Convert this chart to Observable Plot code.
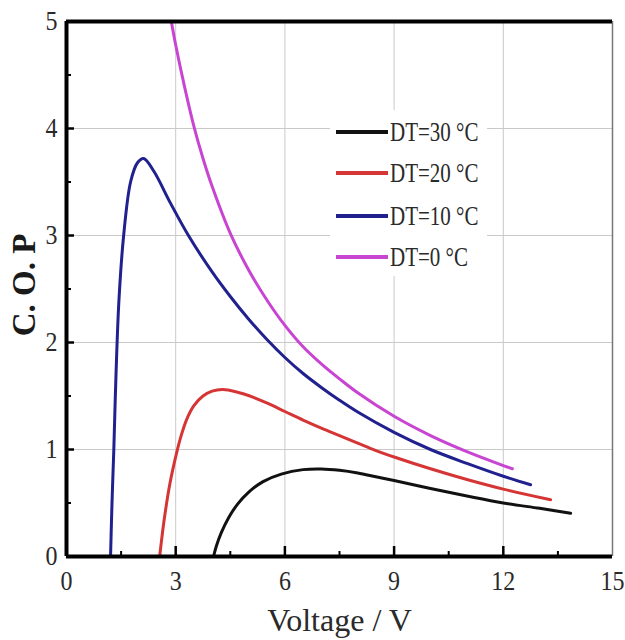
<!DOCTYPE html>
<html><head><meta charset="utf-8">
<script src="https://cdn.jsdelivr.net/npm/d3@7"></script>
<script src="https://cdn.jsdelivr.net/npm/@observablehq/plot@0.6"></script>
<style>body{margin:0;background:#fff}</style>
</head><body><div id="chart"></div>
<script>
// ---- data ----
const xTicks = [0, 3, 6, 9, 12, 15];
const yTicks = [0, 1, 2, 3, 4, 5];
const xGrid = [3, 6, 9, 12];
const yGrid = [1, 2, 3, 4];
const xMinor = [1.5, 4.5, 7.5, 10.5, 13.5];
const yMinor = [0.5, 1.5, 2.5, 3.5, 4.5];
const seriesNames = ["DT=30 °C", "DT=20 °C", "DT=10 °C", "DT=0 °C"];
const seriesColors = ["#111111", "#d63535", "#20208f", "#c845d2"];

const dt30V = [4.04, 4.12, 4.25, 4.45, 4.7, 5.0, 5.4, 5.9, 6.5, 7.0, 7.5, 8.0, 8.5, 9, 10, 11, 12, 13, 13.85];
const dt30C = [0, 0.1, 0.22, 0.36, 0.49, 0.6, 0.7, 0.77, 0.812, 0.818, 0.805, 0.78, 0.745, 0.71, 0.635, 0.565, 0.5, 0.45, 0.405];

const dt20V = [2.56, 2.6, 2.69, 2.84, 3.04, 3.15, 3.3, 3.5, 3.75, 4.0, 4.3, 4.7, 5, 5.5, 6, 6.5, 7, 7.5, 8, 8.5, 9, 10, 11, 12, 13.3];
const dt20C = [0, 0.12, 0.36, 0.68, 0.99, 1.13, 1.28, 1.41, 1.5, 1.545, 1.56, 1.535, 1.505, 1.435, 1.355, 1.275, 1.2, 1.13, 1.06, 0.99, 0.93, 0.82, 0.72, 0.63, 0.53];

const dt10V = [1.21, 1.25, 1.3, 1.36, 1.44, 1.57, 1.76, 1.95, 2.12, 2.4, 2.86, 3.35, 4, 4.5, 5, 5.5, 6, 6.5, 7, 7.5, 8, 9, 10, 11, 12, 12.75];
const dt10C = [0, 0.5, 1.0, 1.7, 2.39, 3.0, 3.5, 3.68, 3.72, 3.6, 3.3, 3.0, 2.66, 2.43, 2.22, 2.03, 1.86, 1.71, 1.58, 1.46, 1.35, 1.16, 1.0, 0.87, 0.75, 0.67];

const dt0V = [2.88, 3.0, 3.25, 3.5, 3.75, 4.0, 4.5, 5.0, 5.5, 6.0, 6.5, 7.0, 7.5, 8.0, 9, 10, 11, 12, 12.25];
const dt0C = [5, 4.78, 4.38, 4.02, 3.72, 3.46, 3.02, 2.68, 2.4, 2.16, 1.96, 1.8, 1.66, 1.53, 1.31, 1.13, 0.98, 0.85, 0.82];

const seriesV = [dt30V, dt20V, dt10V, dt0V];
const seriesC = [dt30C, dt20C, dt10C, dt0C];

const rows = [];
seriesNames.forEach((name, k) => {
  seriesV[k].forEach((v, i) => rows.push({series: name, v, c: seriesC[k][i]}));
});

const serif = "Liberation Serif, Times New Roman, serif";

const chart = Plot.plot({
  width: 625, height: 640,
  marginLeft: 66, marginRight: 13, marginTop: 21, marginBottom: 84,
  style: {fontFamily: serif, background: "#fff", color: "#2a2a2a"},
  x: {domain: [0, 15]},
  y: {domain: [0, 5]},
  color: {domain: seriesNames, range: seriesColors},
  marks: [
    Plot.ruleX(xGrid, {stroke: "#c9c9c9", strokeWidth: 1}),
    Plot.ruleY(yGrid, {stroke: "#c9c9c9", strokeWidth: 1}),
    Plot.line(rows, {x: "v", y: "c", z: "series", stroke: "series", strokeWidth: 3, curve: "catmull-rom"}),
    // inward ticks
    Plot.ruleX(xGrid, {x: d => d, y1: () => 0, y2: () => 0, insetBottom: 10, stroke: "#000", strokeWidth: 2.5}),
    Plot.ruleX(xMinor, {x: d => d, y1: () => 0, y2: () => 0, insetBottom: 5, stroke: "#000", strokeWidth: 2}),
    Plot.ruleY(yGrid, {y: d => d, x1: () => 0, x2: () => 0, insetRight: -8, stroke: "#000", strokeWidth: 2.5}),
    Plot.ruleY(yMinor, {y: d => d, x1: () => 0, x2: () => 0, insetRight: -5, stroke: "#000", strokeWidth: 2}),
    // frame
    Plot.ruleX([15], {stroke: "#777", strokeWidth: 1.5}),
    Plot.ruleY([5], {stroke: "#000", strokeWidth: 4}),
    Plot.ruleY([0], {stroke: "#000", strokeWidth: 4}),
    Plot.ruleX([0], {stroke: "#000", strokeWidth: 4}),
    Plot.axisX(xTicks, {tickSize: 0, tickPadding: 14, fontSize: 24, fontFamily: serif, tickFormat: d => String(d), label: null}),
    Plot.axisY(yTicks, {tickSize: 0, tickPadding: 9, fontSize: 24, fontFamily: serif, tickFormat: d => String(d), label: null}),
    Plot.text(["Voltage / V"], {frameAnchor: "bottom", textAnchor: "middle", lineAnchor: "middle", dy: 64, fontSize: 32, fontFamily: serif, fill: "#2a2a2a", ariaLabel: "xtitle"}),
    Plot.text(["C. O. P"], {frameAnchor: "left", textAnchor: "middle", lineAnchor: "middle", rotate: -90, dx: -42, dy: -4, fontSize: 33, fontWeight: "bold", fontFamily: serif, fill: "#1a1a1a", ariaLabel: "ytitle"})
  ]
});

const svg = d3.select(chart);
svg.selectAll("text").attr("font-family", serif);
function stretch(sel, sx, sy) {
  sel.each(function () {
    const t = this.getAttribute("transform") || "";
    this.setAttribute("transform", t + ` scale(${sx},${sy})`);
  });
}
stretch(svg.selectAll('g[aria-label="x-axis tick label"] text'), 1, 1.15);
stretch(svg.selectAll('g[aria-label="y-axis tick label"] text'), 1, 1.15);
stretch(svg.selectAll('g[aria-label="xtitle"] text'), 1, 1.5);
stretch(svg.selectAll('g[aria-label="ytitle"] text'), 1.12, 1);

// legend
const lg = svg.append("g").attr("aria-label", "legend");
lg.append("rect").attr("x", 330).attr("y", 110).attr("width", 157).attr("height", 166).attr("fill", "#fff");
const rowY = [132, 173, 216, 257];
seriesNames.forEach((name, k) => {
  lg.append("line").attr("x1", 336).attr("x2", 388).attr("y1", rowY[k]).attr("y2", rowY[k])
    .attr("stroke", seriesColors[k]).attr("stroke-width", 4);
  lg.append("text").attr("transform", `translate(390,${rowY[k]}) scale(1,1.3)`)
    .attr("dy", "0.32em").attr("text-anchor", "start").attr("font-size", 21)
    .attr("font-family", serif).attr("fill", "#2a2a2a")
    .text(name);
});

document.getElementById("chart").appendChild(chart);
</script>
</body></html>
